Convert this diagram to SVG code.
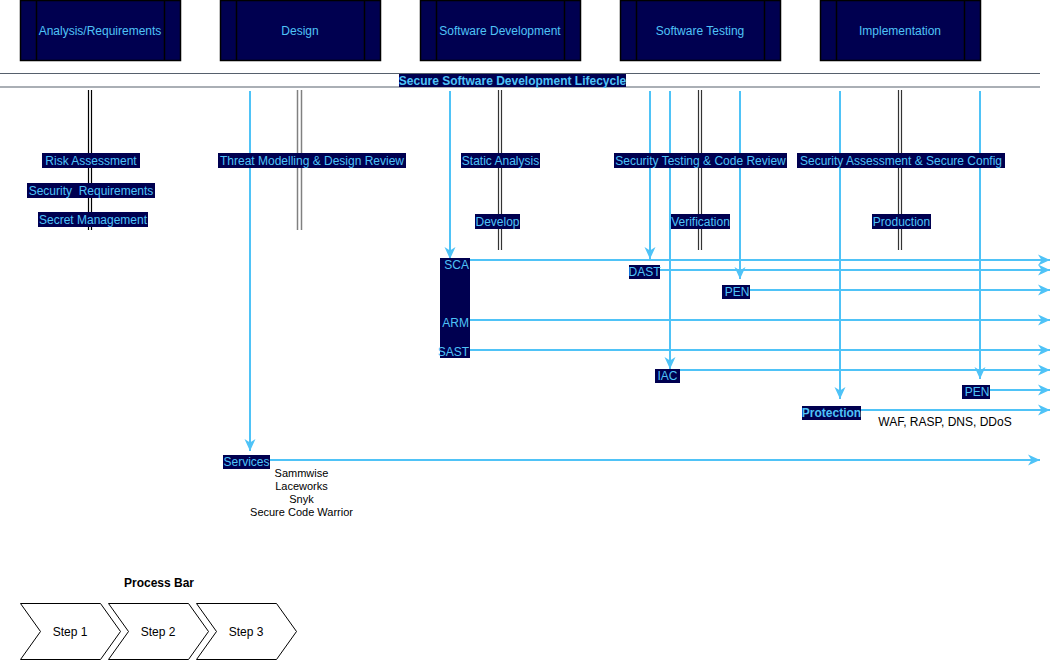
<svg xmlns="http://www.w3.org/2000/svg" width="1060" height="671" viewBox="0 0 1060 671">
<style>
.phase{fill:#000050;stroke:#000;stroke-width:1.5}
.div{stroke:#000;stroke-width:1.5}
.pt{font-family:"Liberation Sans",Arial,sans-serif;font-size:12px;fill:#4FC3F7;text-anchor:middle;dominant-baseline:central}
.lb{fill:#000050}
.bt{font-family:"Liberation Sans",Arial,sans-serif;font-size:12px;fill:#4FC3F7;text-anchor:middle;dominant-baseline:central}
.bold{font-weight:bold}
.blk{font-family:"Liberation Sans",Arial,sans-serif;font-size:11px;fill:#000;text-anchor:middle;dominant-baseline:central}
.arr{stroke:#4FC3F7;stroke-width:2;fill:none;marker-end:url(#ah)}
.pair1{stroke:#000;stroke-width:1.2}
.pair2{stroke:#808080;stroke-width:1.5}
.pair3{stroke:#333;stroke-width:1.2}
.chev{fill:#fff;stroke:#000;stroke-width:1}
</style>
<defs>
<marker id="ah" markerUnits="userSpaceOnUse" markerWidth="14" markerHeight="12" refX="12" refY="6" orient="auto">
<path d="M0,0.5 L12,6 L0,11.5 L3.5,6 z" fill="#4FC3F7"/>
</marker>
</defs>

<g id="phase-analysis">
<rect class="phase" x="20.5" y="0.5" width="160" height="60"/>
<line class="div" x1="36.5" y1="0.5" x2="36.5" y2="60.5"/><line class="div" x1="164.5" y1="0.5" x2="164.5" y2="60.5"/>
<text class="pt" x="100" y="31">Analysis/Requirements</text>
</g>
<g id="phase-design">
<rect class="phase" x="220.5" y="0.5" width="160" height="60"/>
<line class="div" x1="236.5" y1="0.5" x2="236.5" y2="60.5"/><line class="div" x1="364.5" y1="0.5" x2="364.5" y2="60.5"/>
<text class="pt" x="300" y="31">Design</text>
</g>
<g id="phase-dev">
<rect class="phase" x="420.5" y="0.5" width="160" height="60"/>
<line class="div" x1="436.5" y1="0.5" x2="436.5" y2="60.5"/><line class="div" x1="564.5" y1="0.5" x2="564.5" y2="60.5"/>
<text class="pt" x="500" y="31">Software Development</text>
</g>
<g id="phase-testing">
<rect class="phase" x="620.5" y="0.5" width="160" height="60"/>
<line class="div" x1="636.5" y1="0.5" x2="636.5" y2="60.5"/><line class="div" x1="764.5" y1="0.5" x2="764.5" y2="60.5"/>
<text class="pt" x="700" y="31">Software Testing</text>
</g>
<g id="phase-impl">
<rect class="phase" x="820.5" y="0.5" width="160" height="60"/>
<line class="div" x1="836.5" y1="0.5" x2="836.5" y2="60.5"/><line class="div" x1="964.5" y1="0.5" x2="964.5" y2="60.5"/>
<text class="pt" x="900" y="31">Implementation</text>
</g>

<g id="lifecycle">
<line x1="0" y1="73.5" x2="1040" y2="73.5" stroke="#56606c" stroke-width="1.2"/>
<line x1="0" y1="87" x2="1040" y2="87" stroke="#56606c" stroke-width="1.2"/>
<rect class="lb" x="399" y="74" width="227" height="13"/>
<text class="bt bold" x="512.5" y="80.5">Secure Software Development Lifecycle</text>
</g>

<g id="connectors">
<line class="pair1" x1="88.5" y1="90" x2="88.5" y2="230"/><line class="pair1" x1="91.5" y1="90" x2="91.5" y2="230"/>
<line class="pair2" x1="297.5" y1="90" x2="297.5" y2="230"/><line class="pair2" x1="301.5" y1="90" x2="301.5" y2="230"/>
<line class="pair3" x1="498.5" y1="90" x2="498.5" y2="250"/><line class="pair3" x1="501.5" y1="90" x2="501.5" y2="250"/>
<line class="pair3" x1="698.5" y1="90" x2="698.5" y2="250"/><line class="pair3" x1="701.5" y1="90" x2="701.5" y2="250"/>
<line class="pair3" x1="898.5" y1="90" x2="898.5" y2="250"/><line class="pair3" x1="901.5" y1="90" x2="901.5" y2="250"/>

<line class="arr" x1="250" y1="91" x2="250" y2="451"/>
<line class="arr" x1="450" y1="91" x2="450" y2="259"/>
<line class="arr" x1="650" y1="91" x2="650" y2="259"/>
<line class="arr" x1="670" y1="91" x2="670" y2="369"/>
<line class="arr" x1="740" y1="91" x2="740" y2="279"/>
<line class="arr" x1="840" y1="91" x2="840" y2="399"/>
<line class="arr" x1="980" y1="91" x2="980" y2="379"/>

<line class="arr" x1="470" y1="260" x2="1050" y2="260"/>
<line class="arr" x1="660" y1="270" x2="1050" y2="270"/>
<line class="arr" x1="750" y1="290" x2="1050" y2="290"/>
<line class="arr" x1="470" y1="320" x2="1050" y2="320"/>
<line class="arr" x1="470" y1="350" x2="1050" y2="350"/>
<line class="arr" x1="680" y1="370" x2="1050" y2="370"/>
<line class="arr" x1="990" y1="390" x2="1050" y2="390"/>
<line class="arr" x1="861" y1="410" x2="1050" y2="410"/>
<line class="arr" x1="270" y1="460" x2="1040" y2="460"/>
</g>

<g id="risk-assessment"><rect class="lb" x="42" y="153" width="98" height="15"/><text class="bt" x="91" y="160.5">Risk Assessment</text></g>
<g id="security-requirements"><rect class="lb" x="27" y="183" width="128" height="15"/><text class="bt" x="91" y="190.5" xml:space="preserve">Security  Requirements</text></g>
<g id="secret-management"><rect class="lb" x="38" y="212" width="110" height="15"/><text class="bt" x="93" y="219.5">Secret Management</text></g>
<g id="threat-modelling"><rect class="lb" x="218" y="153" width="188" height="15"/><text class="bt" x="312" y="160.5">Threat Modelling &amp; Design Review</text></g>
<g id="static-analysis"><rect class="lb" x="461" y="153" width="79" height="15"/><text class="bt" x="500.5" y="160.5">Static Analysis</text></g>
<g id="develop"><rect class="lb" x="475" y="214" width="45" height="15"/><text class="bt" x="497.5" y="221.5">Develop</text></g>
<g id="security-testing"><rect class="lb" x="614" y="153" width="173" height="15"/><text class="bt" x="700.5" y="160.5">Security Testing &amp; Code Review</text></g>
<g id="verification"><rect class="lb" x="671" y="214" width="59" height="15"/><text class="bt" x="700.5" y="221.5">Verification</text></g>
<g id="security-assessment"><rect class="lb" x="797" y="153" width="208" height="15"/><text class="bt" x="901" y="160.5">Security Assessment &amp; Secure Config</text></g>
<g id="production"><rect class="lb" x="872" y="214" width="59" height="15"/><text class="bt" x="901.5" y="221.5">Production</text></g>

<g id="tools-box">
<rect class="lb" x="440" y="258" width="30" height="100"/>
<text class="bt" x="469" y="265" style="text-anchor:end">SCA</text>
<text class="bt" x="469" y="322.5" style="text-anchor:end">ARM</text>
<text class="bt" x="469" y="351.5" style="text-anchor:end">SAST</text>
</g>
<g id="dast"><rect class="lb" x="629" y="265" width="31" height="14"/><text class="bt" x="644.5" y="272">DAST</text></g>
<g id="pen-testing"><rect class="lb" x="722" y="285" width="28" height="14"/><text class="bt" x="737" y="292">PEN</text></g>
<g id="iac"><rect class="lb" x="655" y="369" width="25" height="14"/><text class="bt" x="667.5" y="376">IAC</text></g>
<g id="pen-impl"><rect class="lb" x="962" y="385" width="28" height="14"/><text class="bt" x="977" y="392">PEN</text></g>
<g id="protection"><rect class="lb" x="802" y="406" width="59" height="14"/><text class="bt bold" x="831.5" y="413">Protection</text></g>
<g id="protection-note"><text class="blk" x="945" y="422" style="font-size:12px">WAF, RASP, DNS, DDoS</text></g>

<g id="services"><rect class="lb" x="223" y="455" width="47" height="14"/><text class="bt" x="246.5" y="462">Services</text></g>
<g id="services-list">
<text class="blk" x="301.5" y="472.5">Sammwise</text>
<text class="blk" x="301.5" y="485.5">Laceworks</text>
<text class="blk" x="301.5" y="498.5">Snyk</text>
<text class="blk" x="301.5" y="511.5">Secure Code Warrior</text>
</g>

<g id="process-bar">
<text class="blk bold" x="159" y="582.5" style="font-size:12px">Process Bar</text>
</g>
<g id="step1"><path class="chev" d="M20.5,603.5 H100.5 L120.5,631.5 L100.5,659.5 H20.5 L40.5,631.5 Z"/><text class="blk" x="70" y="632" style="font-size:12px">Step 1</text></g>
<g id="step2"><path class="chev" d="M108.5,603.5 H188.5 L208.5,631.5 L188.5,659.5 H108.5 L128.5,631.5 Z"/><text class="blk" x="158" y="632" style="font-size:12px">Step 2</text></g>
<g id="step3"><path class="chev" d="M196.5,603.5 H276.5 L296.5,631.5 L276.5,659.5 H196.5 L216.5,631.5 Z"/><text class="blk" x="246" y="632" style="font-size:12px">Step 3</text></g>
</svg>
